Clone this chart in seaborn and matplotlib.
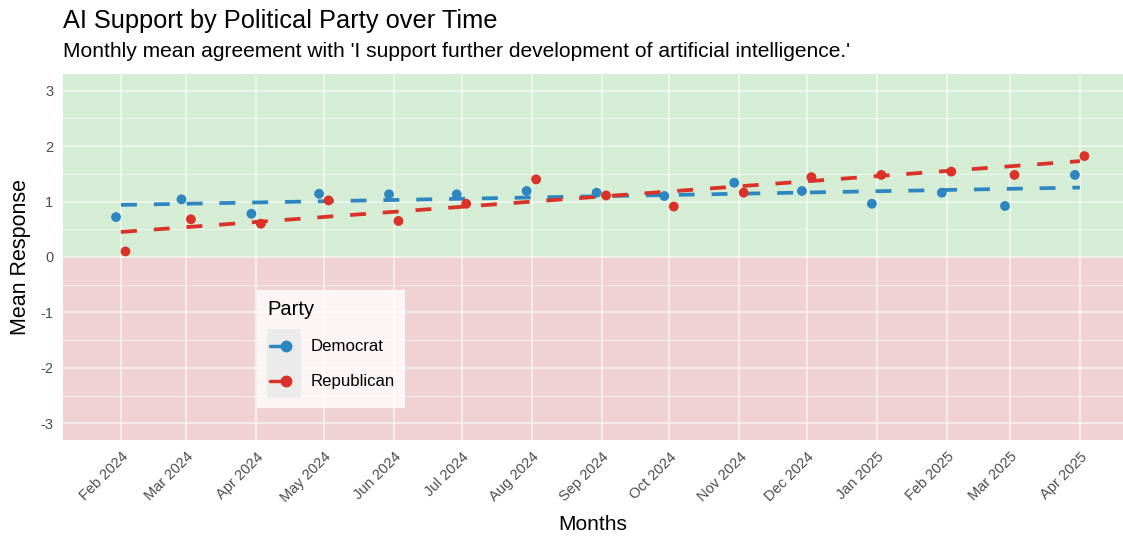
import pandas as pd
import matplotlib
matplotlib.use("Agg")
import matplotlib.pyplot as plt
import matplotlib.dates as mdates
from matplotlib.lines import Line2D
from matplotlib.patches import Rectangle
import seaborn as sns

# monthly means
months = ["2024-02", "2024-03", "2024-04", "2024-05", "2024-06", "2024-07", "2024-08",
          "2024-09", "2024-10", "2024-11", "2024-12", "2025-01", "2025-02", "2025-03", "2025-04"]
democrat = [0.72, 1.04, 0.78, 1.14, 1.13, 1.13, 1.19, 1.16, 1.10, 1.34, 1.19, 0.96, 1.16, 0.92, 1.48]
republican = [0.10, 0.68, 0.60, 1.02, 0.65, 0.96, 1.40, 1.11, 0.91, 1.16, 1.44, 1.48, 1.54, 1.48, 1.82]
parties = ["Democrat", "Republican"]
party_colors = {"Democrat": "#2E86C1", "Republican": "#DA3128"}

dates = pd.to_datetime(months)
df = pd.concat([
    pd.DataFrame({"date": dates, "mean": democrat, "Party": "Democrat"}),
    pd.DataFrame({"date": dates, "mean": republican, "Party": "Republican"}),
], ignore_index=True)
df["x"] = mdates.date2num(df["date"])
# side-by-side dodge, like position_dodge in ggplot
df["x_dodge"] = df["x"] + df["Party"].map({"Democrat": -2.2, "Republican": 2.0})

sns.set_theme(style="white")
plt.rcParams["font.family"] = ["Liberation Sans", "DejaVu Sans"]
plt.rcParams["axes.unicode_minus"] = False
plt.rcParams["text.color"] = "black"
plt.rcParams["axes.labelcolor"] = "black"

fig = plt.figure(figsize=(11.23, 5.38), dpi=100)
ax = fig.add_axes([63 / 1123, 1 - 440 / 538, 1 - 63 / 1123, (440 - 74) / 538])

# agree / disagree background bands
ax.axhspan(0, 3.3, color="#D4EDD4", zorder=0.1, lw=0)
ax.axhspan(-3.3, 0, color="#F0D2D4", zorder=0.1, lw=0)

sns.scatterplot(data=df, x="x_dodge", y="mean", hue="Party", palette=party_colors,
                s=50, edgecolor="none", legend=False, ax=ax, zorder=4)
for p in parties:
    sns.regplot(data=df[df["Party"] == p], x="x", y="mean", scatter=False, ci=None,
                truncate=True, color=party_colors[p], ax=ax,
                line_kws={"lw": 2.7, "ls": (0, (4.25, 4.5)), "zorder": 3})

ax.set_xlim(mdates.date2num(pd.Timestamp("2024-02-01")) - 25.7,
            mdates.date2num(pd.Timestamp("2025-04-01")) + 19.1)
ax.set_ylim(-3.3, 3.3)
ax.set_xticks(mdates.date2num(dates))
ax.set_xticklabels(dates.strftime("%b %Y"), rotation=45, ha="right", rotation_mode="anchor")
ax.set_yticks(range(-3, 4))
ax.set_yticks([-2.5, -1.5, -0.5, 0.5, 1.5, 2.5], minor=True)
ax.tick_params(axis="both", which="major", length=4, width=1.1, color="#333333",
               labelsize=10.5, labelcolor="#4D4D4D", pad=3)
ax.tick_params(axis="y", which="minor", length=0)
ax.set_axisbelow(True)
ax.grid(True, which="major", color="white", alpha=0.6, lw=1.3)
ax.grid(True, which="minor", axis="y", color="white", alpha=0.6, lw=0.7)
for s in ax.spines.values():
    s.set_visible(False)

ax.set_xlabel("Months", fontsize=15, labelpad=7)
ax.set_ylabel("Mean Response", fontsize=15.5, labelpad=7)

fig.text(63 / 1123, 1 - 9 / 538, "AI Support by Political Party over Time",
         fontsize=18.3, va="top", ha="left")
fig.text(63 / 1123, 1 - 42 / 538,
         "Monthly mean agreement with 'I support further development of artificial intelligence.'",
         fontsize=15.1, va="top", ha="left")


class KeyHandler:
    # grey key box with a short line and a dot, ggplot style
    def legend_artist(self, legend, orig_handle, fontsize, handlebox):
        x0, y0 = -handlebox.xdescent, -handlebox.ydescent
        w, h = handlebox.width, handlebox.height
        tr = handlebox.get_transform()
        c = orig_handle.get_color()
        bg = Rectangle((x0, y0), w, h, facecolor="#EBEBEB", edgecolor="none", transform=tr)
        ln = Line2D([x0 + 0.1 * w, x0 + 0.55 * w], [y0 + h / 2] * 2, color=c, lw=2.5,
                    transform=tr)
        dot = Line2D([x0 + 0.55 * w], [y0 + h / 2], marker="o", ms=7.5, color=c, lw=0,
                     transform=tr)
        for a in (bg, ln, dot):
            handlebox.add_artist(a)
        return bg


handles = [Line2D([], [], color=party_colors[p]) for p in parties]
leg = ax.legend(handles, parties, title="Party", loc="upper left",
                bbox_to_anchor=((257 - 63) / 1060, (440 - 290) / 366), borderaxespad=0,
                handler_map={Line2D: KeyHandler()}, fontsize=12.1, title_fontsize=14.5,
                handlelength=2.0, handleheight=2.8, labelspacing=0, handletextpad=0.6,
                borderpad=0.6, frameon=True, fancybox=False, alignment="left")
leg._legend_box.sep = 7  # gap between title and keys
leg.get_frame().set_facecolor("white")
leg.get_frame().set_alpha(0.8)
leg.get_frame().set_edgecolor("none")

fig.savefig("out.png", dpi=100)
